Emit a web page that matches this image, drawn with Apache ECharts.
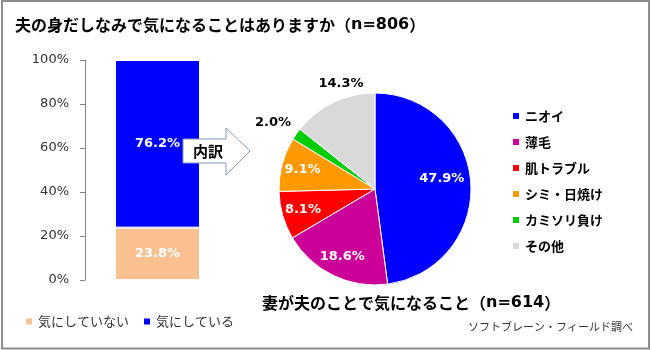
<!DOCTYPE html>
<html>
<head>
<meta charset="utf-8">
<script src="https://cdn.jsdelivr.net/npm/echarts@6/dist/echarts.min.js"></script>
<style>
  html, body { margin: 0; padding: 0; background: #fff; }
  #chart { width: 652px; height: 350px; }
</style>
</head>
<body>
<div id="chart"></div>
<script>
// Stacked bar: share of wives who notice something about their husband's grooming
const barCategories = ['全体'];
const barNotCare = [23.8];   // 気にしていない
const barCare = [76.2];      // 気にしている
const yTicks = [0, 20, 40, 60, 80, 100];

// Pie: what they notice (n=614)
const pieCategories = ['ニオイ', '薄毛', '肌トラブル', 'シミ・日焼け', 'カミソリ負け', 'その他'];
const pieValues = [47.9, 18.6, 8.1, 9.1, 2.0, 14.3];

const pieColors = ['#0000FF', '#CC0099', '#FF0000', '#FF9900', '#00CC00', '#D9D9D9'];
const outsideLabelled = ['カミソリ負け', 'その他'];
const labelNudge = { 'ニオイ': [-8, -5], 'カミソリ負け': [-2, 3], 'その他': [19, 5] };

const numFont = '"DejaVu Sans", Verdana, sans-serif';
const jpFont = '"Noto Sans CJK JP", sans-serif';

const pieCenter = [375, 189];
const pieR = 96;

function pieData(filterFn) {
  return pieCategories.map((name, i) => {
    const show = filterFn(name);
    return {
      name: name,
      value: pieValues[i],
      label: { show: show, offset: labelNudge[name] || [0, 0] }
    };
  });
}

// heading with Japanese text and a Latin sample-size part
function heading(jp, n, x, y) {
  return {
    type: 'text',
    x: x,
    y: y,
    style: {
      text: '{a|' + jp + '（}{b|n=' + n + '}{a|）}',
      verticalAlign: 'middle',
      rich: {
        a: { fontFamily: jpFont, fontWeight: 'bold', fontSize: 16, fill: '#000' },
        b: { fontFamily: numFont, fontWeight: 'bold', fontSize: 16, fill: '#000' }
      }
    }
  };
}

const chart = echarts.init(document.getElementById('chart'), null, { renderer: 'canvas' });

const option = {
  animation: false,
  backgroundColor: '#fff',
  grid: { left: 85, top: 60, width: 145, height: 220 },
  xAxis: {
    type: 'category',
    data: barCategories,
    axisLine: { show: false },
    axisTick: { show: false },
    axisLabel: { show: false }
  },
  yAxis: {
    type: 'value',
    min: yTicks[0],
    max: yTicks[yTicks.length - 1],
    interval: yTicks[1] - yTicks[0],
    splitLine: { show: false },
    axisLine: { show: true, lineStyle: { color: '#868686', width: 1 } },
    axisTick: { show: true, length: 5, lineStyle: { color: '#868686' } },
    axisLabel: {
      formatter: '{value}%',
      margin: 16,
      color: '#333',
      fontFamily: numFont,
      fontSize: 13
    }
  },
  legend: [
    {
      data: ['気にしていない', '気にしている'],
      left: 19,
      top: 310,
      itemWidth: 8,
      itemHeight: 8,
      itemGap: 13,
      icon: 'rect',
      selectedMode: false,
      textStyle: { fontFamily: jpFont, fontSize: 13, color: '#333' }
    },
    {
      data: pieCategories,
      orient: 'vertical',
      left: 506,
      top: 104,
      itemWidth: 8,
      itemHeight: 8,
      itemGap: 12,
      icon: 'rect',
      selectedMode: false,
      textStyle: { fontFamily: jpFont, fontSize: 13, fontWeight: 'bold', color: '#000', lineHeight: 14 }
    }
  ],
  series: [
    {
      name: '気にしていない',
      type: 'bar',
      stack: 'all',
      barWidth: 85,
      data: barNotCare,
      itemStyle: { color: '#FAC090', borderColor: '#fff', borderWidth: 1 },
      label: {
        show: true, position: 'inside', formatter: '{c}%',
        color: '#fff', fontFamily: numFont, fontWeight: 'bold', fontSize: 13
      }
    },
    {
      name: '気にしている',
      type: 'bar',
      stack: 'all',
      barWidth: 85,
      data: barCare,
      itemStyle: { color: '#0000FF', borderColor: '#fff', borderWidth: 1 },
      label: {
        show: true, position: 'inside', formatter: '{c}%',
        color: '#fff', fontFamily: numFont, fontWeight: 'bold', fontSize: 13
      }
    },
    {
      // visible slices
      type: 'pie',
      center: pieCenter,
      radius: [0, pieR],
      startAngle: 90,
      clockwise: true,
      color: pieColors,
      data: pieCategories.map((name, i) => ({ name: name, value: pieValues[i] })),
      itemStyle: { borderColor: '#fff', borderWidth: 1 },
      label: { show: false },
      labelLine: { show: false },
      emphasis: { disabled: true }
    },
    {
      // value labels placed inside the slices
      type: 'pie',
      center: pieCenter,
      radius: [48, pieR],
      startAngle: 90,
      clockwise: true,
      silent: true,
      data: pieData(n => outsideLabelled.indexOf(n) < 0),
      itemStyle: { color: 'rgba(0,0,0,0)', borderWidth: 0 },
      label: {
        position: 'inside', formatter: '{c}%',
        color: '#fff', fontFamily: numFont, fontWeight: 'bold', fontSize: 13
      },
      labelLine: { show: false },
      emphasis: { disabled: true }
    },
    {
      // value labels for the thin slices, outside the rim
      type: 'pie',
      center: pieCenter,
      radius: [104, 134],
      startAngle: 90,
      clockwise: true,
      silent: true,
      data: pieData(n => outsideLabelled.indexOf(n) >= 0),
      itemStyle: { color: 'rgba(0,0,0,0)', borderWidth: 0 },
      label: {
        position: 'inside', formatter: function (p) { return p.value.toFixed(1) + '%'; },
        color: '#000', fontFamily: numFont, fontWeight: 'bold', fontSize: 13
      },
      labelLine: { show: false },
      emphasis: { disabled: true }
    }
  ],
  graphic: [
    {
      type: 'rect',
      shape: { x: 2, y: 1, width: 647, height: 347.5 },
      style: { fill: 'none', stroke: '#8c8c8c', lineWidth: 2 },
      z: 100
    },
    heading('夫の身だしなみで気になることはありますか', 806, 15, 25),
    heading('妻が夫のことで気になること', 614, 262, 303),
    {
      type: 'text',
      left: 468,
      top: 321,
      style: {
        text: 'ソフトブレーン・フィールド調べ',
        font: '11px ' + jpFont,
        fill: '#333'
      }
    },
    {
      type: 'polygon',
      shape: {
        points: [[183, 139], [226, 139], [226, 128], [250, 151], [226, 175], [226, 163], [183, 163]]
      },
      style: { fill: '#fff', stroke: '#8297B8', lineWidth: 1 },
      z: 50
    },
    {
      type: 'text',
      x: 208,
      y: 151,
      style: {
        text: '内訳',
        font: 'bold 15px ' + jpFont,
        fill: '#000',
        align: 'center',
        verticalAlign: 'middle'
      },
      z: 51
    }
  ]
};

chart.setOption(option);
</script>
</body>
</html>
